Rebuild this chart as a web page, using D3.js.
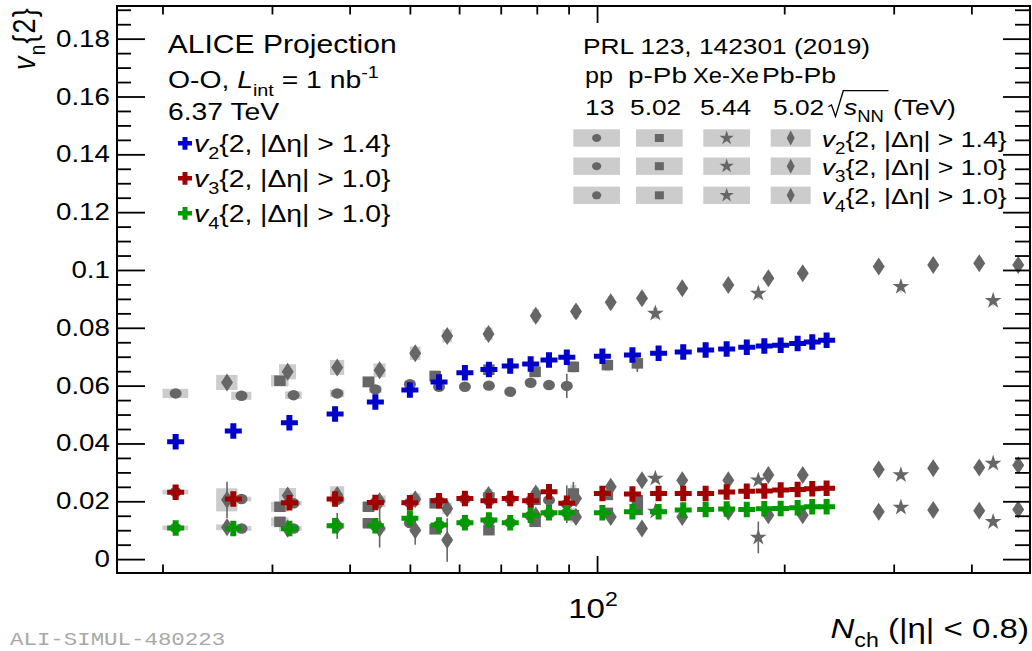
<!DOCTYPE html>
<html><head><meta charset="utf-8">
<script src="https://cdn.jsdelivr.net/npm/d3@7"></script>
<style>html,body{margin:0;padding:0;background:#fff;} svg{display:block;}</style>
</head><body>
<svg id="c" width="1032" height="651"></svg>
<script>
// ---------------- DATA ----------------
// O-O projection (crosses)
const ooN  = [21.0, 26.0, 32.0, 37.9, 44.0, 50.0, 55.7, 61.3, 67.0, 72.5, 78.2, 83.7, 89.4, 102.0, 114.0, 125.6, 137.6, 149.5, 161.6, 174.1, 185.8, 197.4, 210.2, 221.9, 234.0];
const ooV2 = [0.0406, 0.0443, 0.0472, 0.0502, 0.0543, 0.0585, 0.0613, 0.0645, 0.0656, 0.0668, 0.0675, 0.0689, 0.0698, 0.0702, 0.0706, 0.0712, 0.0716, 0.0723, 0.0727, 0.0733, 0.0737, 0.0740, 0.0746, 0.0751, 0.0757];
const ooV3 = [0.0231, 0.0208, 0.0195, 0.0208, 0.0196, 0.0195, 0.0202, 0.0210, 0.0202, 0.0210, 0.0202, 0.0233, 0.0193, 0.0227, 0.0225, 0.0227, 0.0227, 0.0227, 0.0232, 0.0235, 0.0236, 0.0239, 0.0241, 0.0243, 0.0245];
const ooV4 = [0.0108, 0.0106, 0.0106, 0.0115, 0.0115, 0.0141, 0.0118, 0.0126, 0.0135, 0.0126, 0.0152, 0.0160, 0.0160, 0.0160, 0.0164, 0.0164, 0.0170, 0.0172, 0.0173, 0.0172, 0.0174, 0.0175, 0.0178, 0.0181, 0.0181];

// pp 13 TeV (circles)
const ppN     = [21.0, 26.8, 32.5, 38.2, 44.0, 50.0, 55.7, 61.3, 67.0, 72.5, 78.2, 83.7, 89.4];
const ppV2    = [0.0573, 0.0565, 0.0567, 0.0573, 0.0587, 0.0605, 0.0596, 0.0596, 0.0600, 0.0579, 0.0610, 0.0602, 0.0599];
const ppV2Sys = [0.0016, 0.0014, 0.0013, 0.0013, 0.0013, 0.0012, 0.0012, 0.0012, 0.0012, 0.0012, 0.0012, 0.0012, 0.0012];
const ppV2Stat= [0, 0, 0, 0, 0, 0, 0, 0, 0, 0, 0.0008, 0.0015, 0.0042];
const ppV3    = [0.0232, 0.0208, 0.0193, 0.0205, 0.0196, 0.0195, 0.0200, 0.0208, 0.0202, 0.0208, 0.0202, 0.0204, 0.0190];
const ppV3Sys = [0.0008, 0.0008, 0.0008, 0.0008, 0.0008, 0.0008, 0.0008, 0.0008, 0.0008, 0.0008, 0.0008, 0.0008, 0.0008];
const ppV3Stat= [0, 0, 0, 0, 0, 0, 0, 0, 0, 0, 0, 0.0010, 0.0065];
const ppV4    = [0.0108, 0.0106, 0.0106, 0.0115, 0.0115, 0.0125, 0.0118, 0.0126, 0.0130, 0.0126, 0.0150, 0.0158, 0.0160];
const ppV4Sys = [0.0008, 0.0008, 0.0008, 0.0008, 0.0008, 0.0008, 0.0008, 0.0008, 0.0008, 0.0008, 0.0008, 0.0008, 0.0008];
const ppV4Stat= [0, 0, 0, 0, 0, 0, 0, 0, 0, 0, 0, 0, 0];

// p-Pb 5.02 TeV (squares)
const pPbN     = [30.9, 42.9, 54.9, 67.0, 79.5, 91.6, 103.9, 116.1];
const pPbV2    = [0.0617, 0.0613, 0.0633, 0.0655, 0.0648, 0.0665, 0.0671, 0.0677];
const pPbV2Sys = [0.0020, 0.0020, 0.0020, 0.0020, 0.0020, 0.0020, 0.0020, 0.0020];
const pPbV2Stat= [0, 0, 0, 0, 0, 0, 0, 0.0030];
const pPbV3    = [0.0181, 0.0181, 0.0193, 0.0213, 0.0205, 0.0227, 0.0222, 0.0204];
const pPbV3Sys = [0.0017, 0.0017, 0.0017, 0.0017, 0.0017, 0.0030, 0.0017, 0.0017];
const pPbV3Stat= [0, 0, 0, 0, 0, 0.0040, 0, 0.0020];
const pPbV4    = [0.0129, 0.0124, 0.0103, 0.0100, 0.0129, 0.0152, 0.0160, 0.0170];
const pPbV4Sys = [0.0015, 0.0015, 0.0015, 0.0015, 0.0015, 0.0025, 0.0015, 0.0015];
const pPbV4Stat= [0, 0, 0, 0, 0, 0, 0, 0];

// Xe-Xe 5.44 TeV (stars)
const xeN     = [124.1, 181.7, 308.1, 433.6];
const xeV2    = [0.0850, 0.0919, 0.0942, 0.0894];
const xeV2Sys = [0.0020, 0.0020, 0.0020, 0.0020];
const xeV2Stat= [0, 0, 0, 0];
const xeV3    = [0.0279, 0.0273, 0.0291, 0.0331];
const xeV3Sys = [0.0015, 0.0015, 0.0015, 0.0015];
const xeV3Stat= [0, 0, 0, 0];
const xeV4    = [0.0165, 0.0075, 0.0179, 0.0129];
const xeV4Sys = [0.0012, 0.0012, 0.0012, 0.0012];
const xeV4Stat= [0, 0.0055, 0, 0];

// Pb-Pb 5.02 TeV (diamonds)
const pbN     = [25.4, 31.8, 38.2, 44.7, 51.0, 57.4, 66.9, 79.7, 92.5, 105.2, 118.1, 137.1, 162.6, 188.6, 214.2, 283.8, 347.3, 411.8, 475.8];
const pbV2    = [0.0611, 0.0648, 0.0663, 0.0653, 0.0712, 0.0772, 0.0779, 0.0842, 0.0856, 0.0888, 0.0902, 0.0937, 0.0948, 0.0971, 0.0989, 0.1012, 0.1017, 0.1023, 0.1017];
const pbV2Sys = [0.0026, 0.0026, 0.0026, 0.0024, 0.0023, 0.0022, 0.0022, 0.0022, 0.0022, 0.0022, 0.0022, 0.0022, 0.0022, 0.0022, 0.0022, 0.0022, 0.0022, 0.0022, 0.0022];
const pbV2Stat= [0.0020, 0, 0, 0, 0, 0, 0, 0, 0, 0, 0, 0, 0, 0, 0, 0, 0, 0, 0];
const pbV3    = [0.0205, 0.0220, 0.0222, 0.0200, 0.0207, 0.0175, 0.0222, 0.0227, 0.0210, 0.0250, 0.0273, 0.0273, 0.0273, 0.0291, 0.0291, 0.0310, 0.0314, 0.0317, 0.0325];
const pbV3Sys = [0.0040, 0.0026, 0.0030, 0.0020, 0.0020, 0.0020, 0.0020, 0.0020, 0.0020, 0.0020, 0.0020, 0.0020, 0.0020, 0.0020, 0.0020, 0.0020, 0.0020, 0.0020, 0.0020];
const pbV3Stat= [0.0063, 0, 0, 0, 0, 0, 0, 0, 0, 0, 0, 0, 0, 0, 0, 0, 0, 0, 0];
const pbV4    = [0.0110, 0.0105, 0.0115, 0.0106, 0.0100, 0.0066, 0.0130, 0.0150, 0.0146, 0.0146, 0.0106, 0.0146, 0.0164, 0.0152, 0.0152, 0.0164, 0.0170, 0.0167, 0.0172];
const pbV4Sys = [0.0010, 0.0010, 0.0010, 0.0010, 0.0010, 0.0010, 0.0010, 0.0010, 0.0010, 0.0010, 0.0010, 0.0010, 0.0010, 0.0010, 0.0010, 0.0010, 0.0010, 0.0010, 0.0010];
const pbV4Stat= [0, 0, 0.0045, 0.0066, 0.0050, 0.0075, 0, 0, 0, 0, 0, 0, 0, 0, 0, 0, 0, 0, 0];

// axis ticks
const xMinorTicks = [20, 30, 40, 50, 60, 70, 80, 90, 200, 300, 400];
const xMajorTicks = [100];
const yMajorTicks = [0, 0.02, 0.04, 0.06, 0.08, 0.10, 0.12, 0.14, 0.16, 0.18];
const yTickLabels = ["0", "0.02", "0.04", "0.06", "0.08", "0.1", "0.12", "0.14", "0.16", "0.18"];
const yMinorTicks = [0.005, 0.01, 0.015, 0.025, 0.03, 0.035, 0.045, 0.05, 0.055, 0.065, 0.07, 0.075, 0.085, 0.09, 0.095, 0.105, 0.11, 0.115, 0.125, 0.13, 0.135, 0.145, 0.15, 0.155, 0.165, 0.17, 0.175, 0.185, 0.19];

// legend
const systemNames = ["pp", "p-Pb", "Xe-Xe", "Pb-Pb"];
const systemEnergies = ["13", "5.02", "5.44", "5.02"];
const harmonicLabels = [["2", "1.4"], ["3", "1.0"], ["4", "1.0"]];

// ---------------- DRAW ----------------
const SX = 1.18;
const FONT = "'Liberation Sans', Arial, Helvetica, sans-serif";
const GRAY = "#666666", BOX = "#cccccc";
const ooColors = ["#0000cc", "#a00000", "#009a00"];

const svg = d3.select('#c').attr('font-family', FONT);
const M = {left: 117, right: 1030, top: 6, bottom: 573};
const x = d3.scaleLog().domain([16.9, 497]).range([M.left, M.right]);
const y = d3.scaleLinear().domain([-0.0048, 0.1913]).range([M.bottom, M.top]);

svg.append('rect').attr('width', 1032).attr('height', 651).attr('fill', '#fff');
svg.append('defs').append('clipPath').attr('id', 'clip')
  .append('rect').attr('x', M.left).attr('y', M.top).attr('width', M.right - M.left).attr('height', M.bottom - M.top);

function shapePath(shape, s) {
  if (shape === 'circle') { const rx = s.rx, ry = s.ry;
    return `M${-rx},0a${rx},${ry} 0 1,0 ${2*rx},0a${rx},${ry} 0 1,0 ${-2*rx},0Z`; }
  if (shape === 'square') return `M${-s.w/2},${-s.h/2}h${s.w}v${s.h}h${-s.w}Z`;
  if (shape === 'diamond') return `M0,${-s.h/2}L${s.w/2},0L0,${s.h/2}L${-s.w/2},0Z`;
  if (shape === 'star') {
    const R = s.R, r = s.R * 0.382; let d = '';
    for (let i = 0; i < 10; i++) {
      const a = -Math.PI/2 + i * Math.PI/5, rr = i % 2 ? r : R;
      d += (i ? 'L' : 'M') + (rr*Math.cos(a)).toFixed(2) + ',' + (rr*Math.sin(a)).toFixed(2);
    }
    return d + 'Z';
  }
  if (shape === 'cross') {
    const W = s.W, H = s.H, a = s.a, b = s.b;
    return `M${-a/2},${-H/2}h${a}v${H/2-b/2}h${W/2-a/2}v${b}h${-(W/2-a/2)}v${H/2-b/2}h${-a}v${-(H/2-b/2)}h${-(W/2-a/2)}v${-b}h${W/2-a/2}Z`;
  }
}
const plotSize = {circle: {rx: 6, ry: 5.2}, square: {w: 11.5, h: 10.5}, diamond: {w: 12, h: 18}, star: {R: 8.8},
                  cross: {W: 17, H: 15.5, a: 6, b: 5}};
const legSize  = {circle: {rx: 4.6, ry: 4}, square: {w: 9, h: 8}, diamond: {w: 8, h: 15}, star: {R: 7.6},
                  cross: {W: 14, H: 12.7, a: 5, b: 4.4}};

const refSets = [
  {shape: 'circle',  N: ppN,  v: [ppV2, ppV3, ppV4],    sys: [ppV2Sys, ppV3Sys, ppV4Sys],    stat: [ppV2Stat, ppV3Stat, ppV4Stat]},
  {shape: 'square',  N: pPbN, v: [pPbV2, pPbV3, pPbV4], sys: [pPbV2Sys, pPbV3Sys, pPbV4Sys], stat: [pPbV2Stat, pPbV3Stat, pPbV4Stat]},
  {shape: 'star',    N: xeN,  v: [xeV2, xeV3, xeV4],    sys: [xeV2Sys, xeV3Sys, xeV4Sys],    stat: [xeV2Stat, xeV3Stat, xeV4Stat]},
  {shape: 'diamond', N: pbN,  v: [pbV2, pbV3, pbV4],    sys: [pbV2Sys, pbV3Sys, pbV4Sys],    stat: [pbV2Stat, pbV3Stat, pbV4Stat]},
];
function pts(set, h) { return set.N.map((n, i) => ({n, v: set.v[h][i], sys: set.sys[h][i], stat: set.stat[h][i]})); }

const plot = svg.append('g').attr('clip-path', 'url(#clip)');
const gBox = plot.append('g'), gErr = plot.append('g'), gMark = plot.append('g'), gOO = plot.append('g');

refSets.forEach(set => {
  [0, 1, 2].forEach(h => {
    const P = pts(set, h);
    gBox.selectAll(null).data(P).join('rect')
      .attr('x', d => x(d.n - 1)).attr('width', d => x(d.n + 1) - x(d.n - 1))
      .attr('y', d => y(d.v + d.sys)).attr('height', d => y(d.v - d.sys) - y(d.v + d.sys))
      .attr('fill', BOX);
    gErr.selectAll(null).data(P.filter(d => d.stat > 0)).join('line')
      .attr('x1', d => x(d.n)).attr('x2', d => x(d.n))
      .attr('y1', d => y(d.v + d.stat)).attr('y2', d => y(d.v - d.stat))
      .attr('stroke', GRAY).attr('stroke-width', 1.6);
    gMark.selectAll(null).data(P).join('path')
      .attr('d', shapePath(set.shape, plotSize[set.shape]))
      .attr('transform', d => `translate(${x(d.n)},${y(d.v)})`)
      .attr('fill', GRAY);
  });
});

[ooV2, ooV3, ooV4].forEach((vals, h) => {
  gOO.selectAll(null).data(ooN.map((n, i) => ({n, v: vals[i]}))).join('path')
    .attr('d', shapePath('cross', plotSize.cross))
    .attr('transform', d => `translate(${x(d.n)},${y(d.v)})`)
    .attr('fill', ooColors[h]);
});

// ---- axes ----
function styleAxis(g) {
  g.select('.domain').remove();
  g.selectAll('.tick line').attr('stroke', '#000').attr('stroke-width', 1.8);
}
const axB = svg.append('g').attr('transform', `translate(0,${M.bottom})`);
axB.append('g').call(d3.axisBottom(x).tickValues(xMinorTicks).tickSize(-8.5).tickSizeOuter(0).tickFormat('')).call(styleAxis);
axB.append('g').call(d3.axisBottom(x).tickValues(xMajorTicks).tickSize(-17).tickSizeOuter(0).tickFormat('')).call(styleAxis);
const axT = svg.append('g').attr('transform', `translate(0,${M.top})`);
axT.append('g').call(d3.axisTop(x).tickValues(xMinorTicks).tickSize(-8.5).tickSizeOuter(0).tickFormat('')).call(styleAxis);
axT.append('g').call(d3.axisTop(x).tickValues(xMajorTicks).tickSize(-17).tickSizeOuter(0).tickFormat('')).call(styleAxis);

const axL = svg.append('g').attr('transform', `translate(${M.left},0)`);
axL.append('g').call(d3.axisLeft(y).tickValues(yMinorTicks).tickSize(-14).tickSizeOuter(0).tickFormat('')).call(styleAxis);
const axLM = axL.append('g').call(d3.axisLeft(y).tickValues(yMajorTicks).tickSize(-28).tickPadding(6).tickSizeOuter(0)
  .tickFormat((d, i) => yTickLabels[i])).call(styleAxis);
axLM.attr('font-size', 23.5).attr('font-family', FONT);
axLM.selectAll('text').attr('transform', `scale(${SX},1)`).attr('fill', '#000');

const axR = svg.append('g').attr('transform', `translate(${M.right},0)`);
axR.append('g').call(d3.axisRight(y).tickValues(yMinorTicks).tickSize(-15).tickSizeOuter(0).tickFormat('')).call(styleAxis);
axR.append('g').call(d3.axisRight(y).tickValues(yMajorTicks).tickSize(-27).tickSizeOuter(0).tickFormat('')).call(styleAxis);

svg.append('rect').attr('x', M.left).attr('y', M.top).attr('width', M.right - M.left).attr('height', M.bottom - M.top)
  .attr('fill', 'none').attr('stroke', '#000').attr('stroke-width', 2);

// ---- rich text helper ----
function rich(x0, y0, size, parts, opt = {}) {
  const tr = opt.rotate ? `translate(${x0},${y0}) scale(${SX},1) rotate(-90)` : `translate(${x0},${y0}) scale(${SX},1)`;
  const g = svg.append('g').attr('transform', tr);
  const t = g.append('text').attr('font-size', size).attr('text-anchor', opt.anchor || 'start')
    .attr('fill', opt.fill || '#000');
  if (opt.ls) t.attr('letter-spacing', opt.ls);
  if (opt.family) t.attr('font-family', opt.family);
  if (opt.width) t.attr('textLength', opt.width / SX).attr('lengthAdjust', 'spacingAndGlyphs');
  let shift = 0;
  parts.forEach(p => {
    if (typeof p === 'string') p = {t: p};
    const ts = t.append('tspan').text(p.t);
    const target = p.sub ? size * 0.32 : p.sup ? -size * 0.42 : 0;
    if (target !== shift) ts.attr('dy', target - shift);
    shift = target;
    if (p.sub || p.sup) ts.attr('font-size', size * 0.7);
    if (p.i) ts.attr('font-style', 'italic');
  });
  return t;
}

// axis titles and labels
rich(x(100) - 4, 618, 28, ['10', {t: '2', sup: true}], {anchor: 'middle'});
rich(1029, 638, 28, [{t: 'N', i: true}, {t: 'ch', sub: true}, ' (|η| < 0.8)'], {anchor: 'end'});
rich(35, 7, 27, [{t: 'v', i: true}, {t: 'n', sub: true}, '{2}'], {anchor: 'end', rotate: true, ls: 1.2});

// left header
rich(167.7, 53.3, 25.5, ['ALICE Projection']);
rich(168, 88, 24, ['O-O, ', {t: 'L', i: true}, {t: 'int', sub: true}, ' = 1 nb', {t: '-1', sup: true}]);
rich(168, 120, 24, ['6.37 TeV']);
const leftLegY = [143.3, 178.3, 213.3];
harmonicLabels.forEach((hl, h) => {
  svg.append('path').attr('d', shapePath('cross', legSize.cross))
    .attr('transform', `translate(185,${leftLegY[h]})`).attr('fill', ooColors[h]);
  rich(194, leftLegY[h] + 8.5, 24, [{t: 'v', i: true}, {t: hl[0], sub: true}, `{2, |Δη| > ${hl[1]}}`]);
});

// right header
rich(583, 54, 22.3, ['PRL 123, 142301 (2019)']);
const sysNameX = [585, 628, 693, 762];
const sysNameW = [28, 59, 66, 74];
const sysEnX = [585, 630, 700, 773];
systemNames.forEach((s, i) => rich(sysNameX[i], 83, 22.3, [s], {width: sysNameW[i]}));
systemEnergies.forEach((s, i) => rich(sysEnX[i], 115, 22.3, [s]));
svg.append('path').attr('d', 'M828.3,106.7L831.5,105L835.5,116.5L843.3,90.7L888.5,90.7')
  .attr('fill', 'none').attr('stroke', '#000').attr('stroke-width', 1.3);
rich(844, 115, 22.3, [{t: 's', i: true}, {t: 'NN', sub: true}]);
rich(893, 115, 22.3, ['(TeV)']);

// right legend boxes
const boxX = [573.3, 636, 703.3, 770.7];
const boxW = [46.7, 46.7, 46.7, 40];
const rowY = [138, 166.2, 195.3];
const shapes = ['circle', 'square', 'star', 'diamond'];
rowY.forEach((cy, h) => {
  shapes.forEach((sh, i) => {
    svg.append('rect').attr('x', boxX[i]).attr('y', cy - 8.7).attr('width', boxW[i]).attr('height', 17.4).attr('fill', BOX);
    svg.append('path').attr('d', shapePath(sh, legSize[sh]))
      .attr('transform', `translate(${boxX[i] + boxW[i]/2},${cy})`).attr('fill', GRAY);
  });
  rich(821.7, cy + 9, 22.6, [{t: 'v', i: true}, {t: harmonicLabels[h][0], sub: true}, `{2, |Δη| > ${harmonicLabels[h][1]}}`]);
});

// watermark
rich(10, 645, 19, ['ALI-SIMUL-480223'], {fill: '#a8a8a8', family: "'Liberation Mono', 'DejaVu Sans Mono', monospace"});
</script>
</body></html>
